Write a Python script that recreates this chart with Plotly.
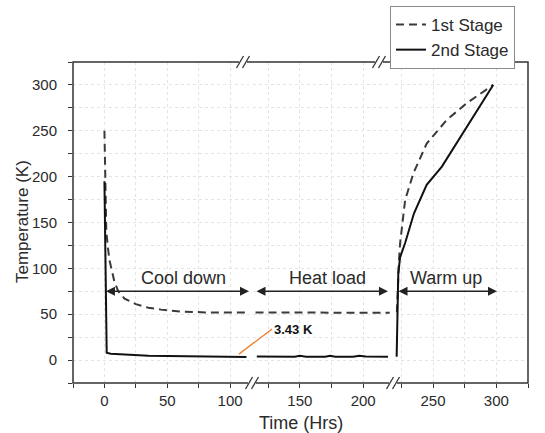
import plotly.graph_objects as go

# ---------------- data ----------------
# 1st stage (dashed)
t1_cool = [0, 0.5, 1, 1.5, 3, 4, 8, 11, 16, 25, 35, 45, 60, 80, 100, 113]
s1_cool = [250, 200, 165, 140, 120, 109, 85, 75, 67, 61, 57, 55, 53, 52, 52, 52]
t1_heat = [115, 130, 150, 170, 190, 210, 221]
s1_heat = [52, 52, 52, 52, 51.5, 51.5, 51.5]
t1_warm = [221.5, 222, 223, 224, 228, 234.5, 245, 261, 276.5, 297.5]
s1_warm = [52, 80, 105, 127, 174.5, 203.6, 236, 262, 280, 300]

# 2nd stage (solid)
t2_cool = [0, 1.2, 1.8, 5, 10, 20, 35, 50, 75, 100, 113]
s2_cool = [195, 15, 8, 7, 6.5, 5.5, 4.8, 4.4, 3.8, 3.5, 3.43]
t2_heat = [116, 130, 146, 150, 155, 170, 174, 178, 192, 197, 202, 219.6]
s2_heat = [4, 3.8, 3.6, 4.6, 3.7, 3.6, 4.6, 3.7, 3.6, 4.8, 3.8, 3.6]
t2_warm = [221.3, 222, 222.6, 224, 228, 235, 245, 257, 297.5]
s2_warm = [3.6, 40, 94.5, 112, 127.6, 160, 191, 211, 300]

x_ticks_1 = [-25, 0, 25, 50, 75, 100]
x_ticks_2 = [125, 150, 175, 200]
x_ticks_3 = [225, 250, 275, 300, 325]
y_ticks = [-25, 0, 25, 50, 75, 100, 125, 150, 175, 200, 225, 250, 275, 300, 325]

def lab(v):
    return str(v) if v % 50 == 0 and v >= 0 and v <= 300 else ""

# ---------------- layout helpers ----------------
W, H = 545, 433
L, R, T, B = 73, 528, 62, 383
def px(x): return (x - L) / (R - L)
def py(y): return (B - y) / (B - T)

FONT = "Arial, Liberation Sans, sans-serif"
TXT = "#2a2a2a"
C1 = "#3a3a3a"
C2 = "#111111"
GRID = "#e4e4e4"

fig = go.Figure()
dash = "8px,5px"
LW = 2
fig.add_trace(go.Scatter(x=t1_cool, y=s1_cool, mode="lines", name="1st Stage",
                         line=dict(color=C1, width=LW, dash=dash), legendgroup="a",
                         xaxis="x", yaxis="y"))
fig.add_trace(go.Scatter(x=t2_cool, y=s2_cool, mode="lines", name="2nd Stage",
                         line=dict(color=C2, width=LW), legendgroup="b",
                         xaxis="x", yaxis="y"))
fig.add_trace(go.Scatter(x=t1_heat, y=s1_heat, mode="lines", showlegend=False,
                         line=dict(color=C1, width=LW, dash=dash), legendgroup="a",
                         xaxis="x2", yaxis="y"))
fig.add_trace(go.Scatter(x=t2_heat, y=s2_heat, mode="lines", showlegend=False,
                         line=dict(color=C2, width=LW), legendgroup="b",
                         xaxis="x2", yaxis="y"))
fig.add_trace(go.Scatter(x=t1_warm, y=s1_warm, mode="lines", showlegend=False,
                         line=dict(color=C1, width=LW, dash=dash), legendgroup="a",
                         xaxis="x3", yaxis="y"))
fig.add_trace(go.Scatter(x=t2_warm, y=s2_warm, mode="lines", showlegend=False,
                         line=dict(color=C2, width=LW), legendgroup="b",
                         xaxis="x3", yaxis="y"))

def xax(dom, rng, ticks):
    return dict(domain=dom, range=rng, anchor="y", tickmode="array",
                tickvals=ticks, ticktext=[lab(v) for v in ticks],
                ticks="outside", ticklen=4, tickcolor="#333", tickwidth=1.2,
                showgrid=True, gridcolor=GRID, griddash="dot", gridwidth=1,
                zeroline=False, showline=False,
                tickfont=dict(family=FONT, size=15, color=TXT))

fig.update_layout(
    width=W, height=H,
    margin=dict(l=L, r=W - R, t=T, b=H - B, autoexpand=False),
    paper_bgcolor="white", plot_bgcolor="white",
    xaxis=xax([0, px(249)], [-25, 115], x_ticks_1),
    xaxis2=xax([px(253), px(391)], [113, 222], x_ticks_2),
    xaxis3=xax([px(395), 1], [220, 325], x_ticks_3),
    yaxis=dict(range=[-25, 325], tickmode="array", tickvals=y_ticks,
               ticktext=[lab(v) for v in y_ticks],
               ticks="outside", ticklen=4, tickcolor="#333", tickwidth=1.2,
               ticklabelstandoff=8,
               showgrid=True, gridcolor=GRID, griddash="dot", gridwidth=1,
               zeroline=False, showline=False,
               tickfont=dict(family=FONT, size=15, color=TXT)),
    legend=dict(x=px(390), y=py(6), xanchor="left", yanchor="top",
                bgcolor="white", bordercolor="#8a8a8a", borderwidth=1,
                font=dict(family=FONT, size=17, color=TXT),
                tracegroupgap=0, itemwidth=30),
    showlegend=True,
)

shapes = [dict(type="rect", xref="paper", yref="paper", x0=0, x1=1, y0=0, y1=1,
               line=dict(color="#333", width=1.5), layer="above")]
# axis break marks
for cx, cy in [(243, T), (379, T), (252, B), (393, B)]:
    shapes.append(dict(type="rect", xref="paper", yref="paper",
                       x0=px(cx - 4), x1=px(cx + 4), y0=py(cy + 2.5), y1=py(cy - 2.5),
                       fillcolor="white", line=dict(width=0), layer="above"))
    for off in (-3, 3):
        shapes.append(dict(type="line", xref="paper", yref="paper",
                           x0=px(cx + off - 3.5), y0=py(cy + 6),
                           x1=px(cx + off + 3.5), y1=py(cy - 6),
                           line=dict(color="#333", width=1.3), layer="above"))
fig.update_layout(shapes=shapes)

ann = []
# double arrows
for xr, x0, x1 in [("x", 0, 115), ("x2", 114.6, 219.6), ("x3", 221.6, 300.5)]:
    ann.append(dict(xref=xr, yref="y", axref=xr, ayref="y", x=x1, y=75, ax=x0, ay=75,
                    showarrow=True, arrowhead=2, arrowside="end+start", arrowsize=1.2,
                    arrowwidth=1.5, arrowcolor="#222", text=""))
for xr, xc, t in [("x", 62.5, "Cool down"), ("x2", 171.5, "Heat load"), ("x3", 260, "Warm up")]:
    ann.append(dict(xref=xr, yref="y", x=xc, y=89.5, text=t, showarrow=False,
                    xanchor="center", yanchor="middle",
                    font=dict(family=FONT, size=18, color=TXT)))
# 3.43 K callout
ann.append(dict(xref="x", yref="y", x=107, y=6.5, ax=33, ay=-25, text="<b>3.43 K</b>",
                xanchor="left", yanchor="middle", showarrow=True, arrowhead=0,
                arrowcolor="#f07f30", arrowwidth=1.3, standoff=0,
                font=dict(family=FONT, size=13, color="#111")))
# axis titles
ann.append(dict(xref="paper", yref="paper", x=px(22), y=py(222), text="Temperature (K)",
                xanchor="center", yanchor="middle",
                textangle=-90, showarrow=False, font=dict(family=FONT, size=17, color=TXT)))
ann.append(dict(xref="paper", yref="paper", x=px(301), y=py(423), text="Time (Hrs)",
                xanchor="center", yanchor="middle",
                showarrow=False, font=dict(family=FONT, size=18, color=TXT)))
fig.update_layout(annotations=ann)

fig.write_html("out.html", config={"displayModeBar": False},
               post_script="document.body.style.margin='0';document.body.style.overflow='hidden';")
